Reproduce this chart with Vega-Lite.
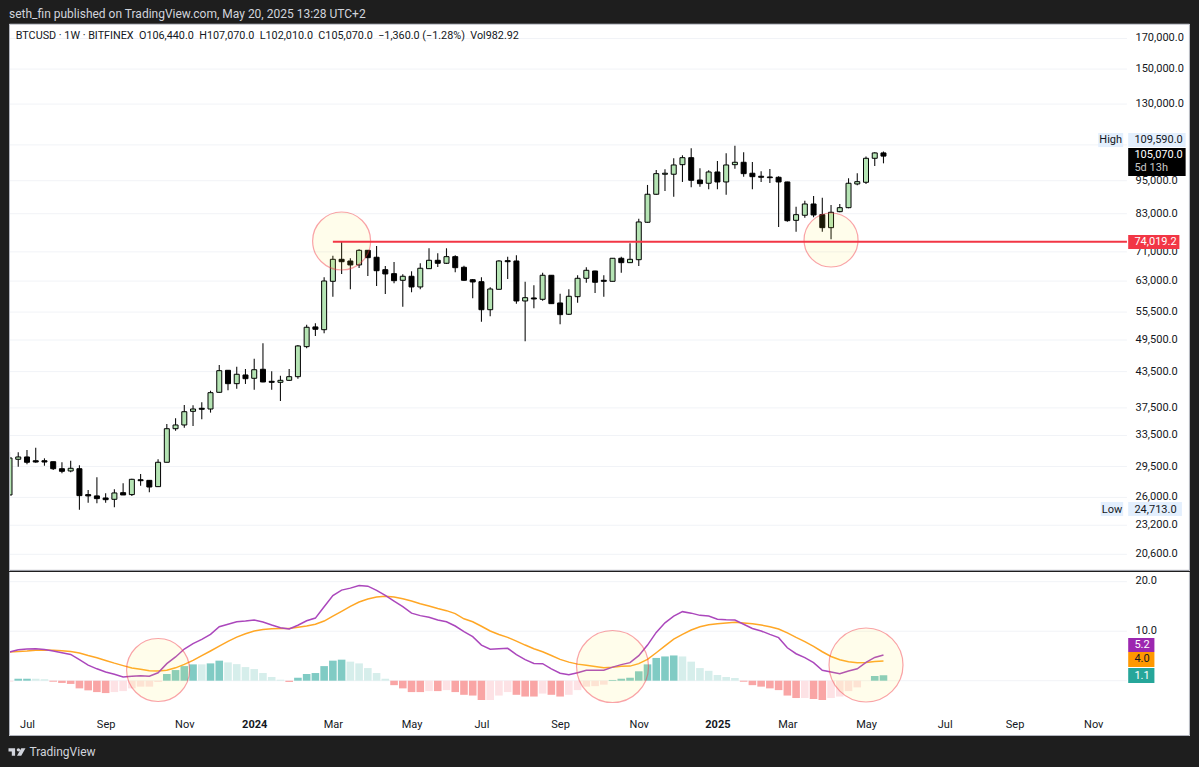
{
  "$schema": "https://vega.github.io/schema/vega-lite/v6.json",
  "background": "#1e1e1e",
  "padding": {"left": 8, "top": 8, "right": 9, "bottom": 9},
  "spacing": 0,
  "resolve": {"scale": {"fill": "independent"}},
  "datasets": {
    "weeks": [
      {"date":"2023-06-19","open":26260,"high":31310,"low":26260,"close":30550,"hist":-0.2,"phase":"downfade","macd":5.8,"signal":5.8},
      {"date":"2023-06-26","open":30390,"high":31270,"low":29480,"close":30680,"hist":0.4,"phase":"up","macd":6.25,"signal":5.9},
      {"date":"2023-07-03","open":30680,"high":31560,"low":29780,"close":30020,"hist":0.4,"phase":"up","macd":6.4,"signal":6.0},
      {"date":"2023-07-10","open":30210,"high":31870,"low":29970,"close":30050,"hist":0.4,"phase":"upfade","macd":6.45,"signal":6.15},
      {"date":"2023-07-17","open":30210,"high":30510,"low":29600,"close":30050,"hist":0.3,"phase":"upfade","macd":6.3,"signal":6.2},
      {"date":"2023-07-24","open":30090,"high":30090,"low":29080,"close":29240,"hist":-0.2,"phase":"down","macd":6.0,"signal":6.15},
      {"date":"2023-07-31","open":29240,"high":30020,"low":28700,"close":28930,"hist":-0.45,"phase":"down","macd":5.65,"signal":6.05},
      {"date":"2023-08-07","open":28970,"high":30210,"low":28810,"close":29290,"hist":-0.65,"phase":"down","macd":5.3,"signal":5.9},
      {"date":"2023-08-14","open":29240,"high":29650,"low":24713,"close":26190,"hist":-1.55,"phase":"down","macd":4.25,"signal":5.6},
      {"date":"2023-08-21","open":26300,"high":26800,"low":25450,"close":26160,"hist":-1.95,"phase":"down","macd":3.15,"signal":5.1},
      {"date":"2023-08-28","open":26160,"high":28230,"low":25380,"close":25870,"hist":-2.3,"phase":"down","macd":2.4,"signal":4.65},
      {"date":"2023-09-04","open":25940,"high":26450,"low":25450,"close":25760,"hist":-2.5,"phase":"down","macd":1.75,"signal":4.1},
      {"date":"2023-09-11","open":25800,"high":26880,"low":24970,"close":26480,"hist":-2.3,"phase":"downfade","macd":1.3,"signal":3.55},
      {"date":"2023-09-18","open":26510,"high":27550,"low":26260,"close":26260,"hist":-2.1,"phase":"downfade","macd":0.75,"signal":3.05},
      {"date":"2023-09-25","open":26300,"high":28070,"low":26160,"close":28000,"hist":-1.55,"phase":"downfade","macd":0.9,"signal":2.55},
      {"date":"2023-10-02","open":27950,"high":28620,"low":27280,"close":27840,"hist":-1.2,"phase":"downfade","macd":1.0,"signal":2.3},
      {"date":"2023-10-09","open":27880,"high":27920,"low":26550,"close":27130,"hist":-1.2,"phase":"downfade","macd":0.9,"signal":2.0},
      {"date":"2023-10-16","open":27170,"high":30390,"low":27170,"close":30020,"hist":-0.25,"phase":"downfade","macd":1.6,"signal":1.95},
      {"date":"2023-10-23","open":30020,"high":35110,"low":30020,"close":34440,"hist":1.35,"phase":"up","macd":3.45,"signal":2.1},
      {"date":"2023-10-30","open":34440,"high":35940,"low":34160,"close":34970,"hist":2.15,"phase":"up","macd":4.8,"signal":2.6},
      {"date":"2023-11-06","open":34970,"high":37950,"low":34590,"close":36920,"hist":2.95,"phase":"up","macd":6.4,"signal":3.3},
      {"date":"2023-11-13","open":36980,"high":37910,"low":34830,"close":37330,"hist":3.3,"phase":"up","macd":7.5,"signal":4.1},
      {"date":"2023-11-20","open":37440,"high":38370,"low":35790,"close":37290,"hist":3.3,"phase":"upfade","macd":8.35,"signal":5.05},
      {"date":"2023-11-27","open":37330,"high":40230,"low":36780,"close":39910,"hist":3.5,"phase":"up","macd":9.35,"signal":6.0},
      {"date":"2023-12-04","open":39970,"high":44700,"low":39910,"close":43670,"hist":4.05,"phase":"up","macd":10.9,"signal":7.0},
      {"date":"2023-12-11","open":43740,"high":43790,"low":40300,"close":41410,"hist":3.7,"phase":"upfade","macd":11.4,"signal":7.95},
      {"date":"2023-12-18","open":41410,"high":44390,"low":40570,"close":43030,"hist":3.35,"phase":"upfade","macd":11.9,"signal":8.8},
      {"date":"2023-12-25","open":42910,"high":43970,"low":41360,"close":42260,"hist":2.75,"phase":"upfade","macd":12.05,"signal":9.5},
      {"date":"2024-01-01","open":42330,"high":45860,"low":40400,"close":43840,"hist":2.35,"phase":"upfade","macd":12.25,"signal":10.05},
      {"date":"2024-01-08","open":43920,"high":48850,"low":41640,"close":41700,"hist":1.55,"phase":"upfade","macd":11.85,"signal":10.35},
      {"date":"2024-01-15","open":41810,"high":43560,"low":40400,"close":41640,"hist":0.75,"phase":"upfade","macd":11.25,"signal":10.5},
      {"date":"2024-01-22","open":41640,"high":42790,"low":38570,"close":41980,"hist":0.2,"phase":"upfade","macd":10.7,"signal":10.55},
      {"date":"2024-01-29","open":41980,"high":43970,"low":41910,"close":42610,"hist":-0.25,"phase":"down","macd":10.45,"signal":10.55},
      {"date":"2024-02-05","open":42610,"high":48510,"low":42260,"close":48320,"hist":0.6,"phase":"up","macd":11.2,"signal":10.8},
      {"date":"2024-02-12","open":48180,"high":52720,"low":47860,"close":52160,"hist":1.35,"phase":"up","macd":12.1,"signal":11.05},
      {"date":"2024-02-19","open":52230,"high":53020,"low":50330,"close":51730,"hist":1.55,"phase":"up","macd":12.65,"signal":11.4},
      {"date":"2024-02-26","open":51640,"high":64000,"low":50890,"close":63030,"hist":2.95,"phase":"up","macd":14.95,"signal":12.05},
      {"date":"2024-03-04","open":62950,"high":69910,"low":59110,"close":68880,"hist":4.05,"phase":"up","macd":17.2,"signal":13.05},
      {"date":"2024-03-11","open":68880,"high":74019,"low":64870,"close":68210,"hist":4.25,"phase":"up","macd":18.3,"signal":14.0},
      {"date":"2024-03-18","open":68400,"high":69170,"low":60920,"close":67310,"hist":3.85,"phase":"upfade","macd":18.7,"signal":15.0},
      {"date":"2024-03-25","open":67310,"high":71760,"low":66480,"close":71460,"hist":3.5,"phase":"upfade","macd":19.25,"signal":15.9},
      {"date":"2024-04-01","open":71460,"high":71550,"low":64340,"close":69340,"hist":2.55,"phase":"upfade","macd":19.1,"signal":16.5},
      {"date":"2024-04-08","open":69460,"high":72740,"low":61760,"close":65740,"hist":1.55,"phase":"upfade","macd":18.25,"signal":16.9},
      {"date":"2024-04-15","open":66010,"high":67030,"low":59770,"close":64870,"hist":0.4,"phase":"upfade","macd":17.25,"signal":17.05},
      {"date":"2024-04-22","open":64950,"high":68130,"low":62450,"close":63110,"hist":-0.9,"phase":"down","macd":16.1,"signal":16.9},
      {"date":"2024-04-29","open":63210,"high":64790,"low":56740,"close":64260,"hist":-1.55,"phase":"down","macd":14.95,"signal":16.55},
      {"date":"2024-05-06","open":64260,"high":65580,"low":60190,"close":61510,"hist":-2.3,"phase":"down","macd":13.65,"signal":16.1},
      {"date":"2024-05-13","open":61510,"high":67770,"low":60920,"close":66400,"hist":-2.3,"phase":"down","macd":13.15,"signal":15.55},
      {"date":"2024-05-20","open":66290,"high":72060,"low":66200,"close":68600,"hist":-2.1,"phase":"downfade","macd":12.8,"signal":15.1},
      {"date":"2024-05-27","open":68600,"high":70600,"low":66750,"close":67770,"hist":-2.1,"phase":"down","macd":12.25,"signal":14.6},
      {"date":"2024-06-03","open":67770,"high":72060,"low":67580,"close":69630,"hist":-1.9,"phase":"downfade","macd":11.9,"signal":14.15},
      {"date":"2024-06-10","open":69630,"high":70030,"low":65320,"close":66560,"hist":-2.3,"phase":"down","macd":11.05,"signal":13.55},
      {"date":"2024-06-17","open":66670,"high":67110,"low":63110,"close":63210,"hist":-2.85,"phase":"down","macd":9.9,"signal":12.5},
      {"date":"2024-06-24","open":63360,"high":63550,"low":58720,"close":62780,"hist":-3.0,"phase":"down","macd":8.9,"signal":11.9},
      {"date":"2024-07-01","open":62850,"high":64000,"low":53360,"close":56040,"hist":-3.9,"phase":"down","macd":7.2,"signal":11.0},
      {"date":"2024-07-08","open":56040,"high":61430,"low":54560,"close":61000,"hist":-3.9,"phase":"downfade","macd":6.35,"signal":10.05},
      {"date":"2024-07-15","open":60920,"high":68600,"low":60920,"close":68410,"hist":-3.0,"phase":"downfade","macd":6.45,"signal":9.35},
      {"date":"2024-07-22","open":68490,"high":69630,"low":63550,"close":68210,"hist":-2.3,"phase":"downfade","macd":6.55,"signal":8.75},
      {"date":"2024-07-29","open":68410,"high":70030,"low":57450,"close":58080,"hist":-2.85,"phase":"down","macd":5.25,"signal":8.0},
      {"date":"2024-08-05","open":58080,"high":62850,"low":49250,"close":58870,"hist":-3.2,"phase":"down","macd":4.25,"signal":7.2},
      {"date":"2024-08-12","open":58800,"high":61940,"low":56370,"close":58560,"hist":-3.2,"phase":"down","macd":3.5,"signal":6.45},
      {"date":"2024-08-19","open":58480,"high":65210,"low":58150,"close":64520,"hist":-2.6,"phase":"downfade","macd":3.45,"signal":5.85},
      {"date":"2024-08-26","open":64520,"high":64520,"low":57450,"close":57450,"hist":-2.85,"phase":"down","macd":2.4,"signal":5.1},
      {"date":"2024-09-02","open":57610,"high":59850,"low":52810,"close":54920,"hist":-3.2,"phase":"down","macd":1.5,"signal":4.3},
      {"date":"2024-09-09","open":55010,"high":60920,"low":54850,"close":59210,"hist":-2.85,"phase":"downfade","macd":1.2,"signal":3.75},
      {"date":"2024-09-16","open":59110,"high":64520,"low":57680,"close":63730,"hist":-1.9,"phase":"downfade","macd":1.6,"signal":3.35},
      {"date":"2024-09-23","open":63730,"high":66670,"low":62600,"close":65850,"hist":-1.2,"phase":"downfade","macd":2.1,"signal":3.1},
      {"date":"2024-09-30","open":65660,"high":65740,"low":60010,"close":62700,"hist":-1.1,"phase":"downfade","macd":2.1,"signal":2.85},
      {"date":"2024-10-07","open":63210,"high":64520,"low":59110,"close":62950,"hist":-0.8,"phase":"downfade","macd":2.1,"signal":2.6},
      {"date":"2024-10-14","open":62950,"high":69170,"low":62950,"close":69170,"hist":0.15,"phase":"up","macd":2.75,"signal":2.7},
      {"date":"2024-10-21","open":69170,"high":69630,"low":65210,"close":67940,"hist":0.4,"phase":"up","macd":3.25,"signal":2.9},
      {"date":"2024-10-28","open":67940,"high":73550,"low":67860,"close":68880,"hist":0.6,"phase":"up","macd":3.65,"signal":2.95},
      {"date":"2024-11-04","open":68770,"high":81330,"low":67030,"close":80250,"hist":1.9,"phase":"up","macd":5.05,"signal":3.45},
      {"date":"2024-11-11","open":80150,"high":93370,"low":80020,"close":89880,"hist":3.3,"phase":"up","macd":7.2,"signal":4.3},
      {"date":"2024-11-18","open":89880,"high":99260,"low":89740,"close":97790,"hist":4.6,"phase":"up","macd":9.75,"signal":5.65},
      {"date":"2024-11-25","open":97550,"high":99550,"low":91090,"close":97950,"hist":4.9,"phase":"up","macd":11.7,"signal":7.05},
      {"date":"2024-12-02","open":97550,"high":104130,"low":89000,"close":101330,"hist":5.1,"phase":"up","macd":13.05,"signal":8.4},
      {"date":"2024-12-09","open":101450,"high":105420,"low":94520,"close":104390,"hist":4.9,"phase":"upfade","macd":13.95,"signal":9.35},
      {"date":"2024-12-16","open":104390,"high":108450,"low":92490,"close":95160,"hist":3.85,"phase":"upfade","macd":13.65,"signal":10.25},
      {"date":"2024-12-23","open":95280,"high":99930,"low":92720,"close":93870,"hist":2.55,"phase":"upfade","macd":13.2,"signal":10.9},
      {"date":"2024-12-30","open":94020,"high":99130,"low":91730,"close":98460,"hist":2.0,"phase":"upfade","macd":13.05,"signal":11.3},
      {"date":"2025-01-06","open":98460,"high":102990,"low":91730,"close":94520,"hist":1.15,"phase":"upfade","macd":12.4,"signal":11.5},
      {"date":"2025-01-13","open":94520,"high":106300,"low":89740,"close":101330,"hist":0.75,"phase":"upfade","macd":12.3,"signal":11.65},
      {"date":"2025-01-20","open":101450,"high":109590,"low":99800,"close":102450,"hist":0.55,"phase":"upfade","macd":12.25,"signal":11.8},
      {"date":"2025-01-27","open":102450,"high":106730,"low":96590,"close":97790,"hist":-0.2,"phase":"down","macd":11.4,"signal":11.65},
      {"date":"2025-02-03","open":97950,"high":102570,"low":91730,"close":96590,"hist":-0.9,"phase":"down","macd":10.55,"signal":11.5},
      {"date":"2025-02-10","open":96750,"high":98740,"low":94520,"close":96350,"hist":-1.2,"phase":"down","macd":10.05,"signal":11.25},
      {"date":"2025-02-17","open":96470,"high":99670,"low":94130,"close":96190,"hist":-1.55,"phase":"down","macd":9.35,"signal":10.9},
      {"date":"2025-02-24","open":96350,"high":96750,"low":78630,"close":94520,"hist":-1.9,"phase":"down","macd":8.7,"signal":10.45},
      {"date":"2025-03-03","open":94520,"high":94630,"low":80340,"close":80670,"hist":-3.0,"phase":"down","macd":6.65,"signal":9.65},
      {"date":"2025-03-10","open":80790,"high":85430,"low":77120,"close":82680,"hist":-3.5,"phase":"down","macd":5.45,"signal":8.75},
      {"date":"2025-03-17","open":82480,"high":87550,"low":81670,"close":86380,"hist":-3.5,"phase":"downfade","macd":4.65,"signal":7.9},
      {"date":"2025-03-24","open":86380,"high":89260,"low":81800,"close":82580,"hist":-3.7,"phase":"down","macd":3.65,"signal":6.95},
      {"date":"2025-03-31","open":82680,"high":88640,"low":77120,"close":78400,"hist":-3.9,"phase":"down","macd":2.1,"signal":5.85},
      {"date":"2025-04-07","open":78400,"high":86030,"low":74760,"close":83490,"hist":-3.5,"phase":"downfade","macd":1.75,"signal":4.9},
      {"date":"2025-04-14","open":83700,"high":86380,"low":83490,"close":85080,"hist":-3.2,"phase":"downfade","macd":1.4,"signal":4.25},
      {"date":"2025-04-21","open":85080,"high":95960,"low":84870,"close":94020,"hist":-2.1,"phase":"downfade","macd":1.95,"signal":3.85},
      {"date":"2025-04-28","open":93750,"high":97950,"low":93250,"close":94630,"hist":-1.35,"phase":"downfade","macd":2.4,"signal":3.65},
      {"date":"2025-05-05","open":94400,"high":104860,"low":93750,"close":104130,"hist":0.0,"phase":"downfade","macd":3.7,"signal":3.7},
      {"date":"2025-05-12","open":104130,"high":106730,"low":100910,"close":106440,"hist":0.95,"phase":"up","macd":4.7,"signal":3.9},
      {"date":"2025-05-19","open":106440,"high":107070,"low":102010,"close":105070,"hist":1.1,"phase":"up","macd":5.2,"signal":4.0}
    ],
    "priceGrid": [
      {"date":"2023-06-19","end":"2025-11-30","price":170000},
      {"date":"2023-06-19","end":"2025-11-30","price":150000},
      {"date":"2023-06-19","end":"2025-11-30","price":130000},
      {"date":"2023-06-19","end":"2025-11-30","price":110000},
      {"date":"2023-06-19","end":"2025-11-30","price":95000},
      {"date":"2023-06-19","end":"2025-11-30","price":83000},
      {"date":"2023-06-19","end":"2025-11-30","price":71000},
      {"date":"2023-06-19","end":"2025-11-30","price":63000},
      {"date":"2023-06-19","end":"2025-11-30","price":55500},
      {"date":"2023-06-19","end":"2025-11-30","price":49500},
      {"date":"2023-06-19","end":"2025-11-30","price":43500},
      {"date":"2023-06-19","end":"2025-11-30","price":37500},
      {"date":"2023-06-19","end":"2025-11-30","price":33500},
      {"date":"2023-06-19","end":"2025-11-30","price":29500},
      {"date":"2023-06-19","end":"2025-11-30","price":26000},
      {"date":"2023-06-19","end":"2025-11-30","price":23200},
      {"date":"2023-06-19","end":"2025-11-30","price":20600}
    ],
    "macdGrid": [
      {"date":"2023-06-19","end":"2025-11-30","price":20},
      {"date":"2023-06-19","end":"2025-11-30","price":10},
      {"date":"2023-06-19","end":"2025-11-30","price":0}
    ],
    "months": [
      {"date":"2023-07-03"},{"date":"2023-09-04"},{"date":"2023-11-06"},{"date":"2024-01-01"},
      {"date":"2024-03-04"},{"date":"2024-05-06"},{"date":"2024-07-01"},{"date":"2024-09-02"},
      {"date":"2024-11-04"},{"date":"2025-01-06"},{"date":"2025-03-03"},{"date":"2025-05-05"},
      {"date":"2025-07-07"},{"date":"2025-09-01"},{"date":"2025-11-03"},{"date":"2025-11-29"}
    ],
    "priceTags": [
      {"date":"2025-11-07","end":"2025-11-27","price":109020,"top":115480,"tag":"range"},
      {"date":"2025-12-01","end":"2026-01-16","price":109020,"top":115480,"tag":"range"},
      {"date":"2025-12-01","end":"2026-01-16","price":96850,"top":108590,"tag":"last"},
      {"date":"2025-12-01","end":"2026-01-11","price":71850,"top":76090,"tag":"level"},
      {"date":"2025-11-09","end":"2025-11-27","price":24090,"top":25520,"tag":"range"},
      {"date":"2025-12-01","end":"2026-01-13","price":24090,"top":25520,"tag":"range"}
    ],
    "macdTags": [
      {"date":"2025-12-01","end":"2025-12-22","price":5.8,"top":8.63,"tag":"macd"},
      {"date":"2025-12-01","end":"2025-12-22","price":2.77,"top":5.8,"tag":"signal"},
      {"date":"2025-12-01","end":"2025-12-22","price":-0.46,"top":2.57,"tag":"hist"}
    ]
  },
  "vconcat": [
    {
      "width": 1181,
      "height": 547,
      "encoding": {
        "x": {"field":"date","type":"temporal","axis":null,"scale":{"type":"utc","nice":false,"padding":0,"domain":["2023-06-18T14:24:00Z","2026-01-19T12:00:00Z"]}},
        "y": {"field":"price","type":"quantitative","scale":{"type":"log","nice":false,"domain":[19240,180391]},
          "axis":{"title":null,"orient":"right","offset":-63,"values":[170000,150000,130000,95000,83000,71000,63000,55500,49500,43500,37500,33500,29500,26000,23200,20600],"format":",.1f","grid":false,"domain":false,"ticks":false,"labelPadding":8,"labelAlign":"left","labelOffset":-0.5,"labelOverlap":false,"labelFont":"Roboto","labelFontSize":11,"labelColor":"#131722"}}
      },
      "layer": [
        {"data":{"name":"months"},"mark":{"type":"rule","color":"#f1f3f7","strokeWidth":1},"encoding":{"y":{"datum":180391,"type":"quantitative"},"y2":{"datum":19240}}},
        {"data":{"name":"priceGrid"},"mark":{"type":"rule","color":"#f1f3f7","strokeWidth":1},"encoding":{"x2":{"field":"end"}}},
        {"data":{"name":"weeks"},"mark":{"type":"rule","color":"#111111","strokeWidth":1.1,"clip":true},"encoding":{"y":{"field":"low","type":"quantitative"},"y2":{"field":"high"}}},
        {"data":{"name":"weeks"},"mark":{"type":"bar","size":5,"stroke":"#000000","strokeWidth":1,"clip":true},
          "encoding":{"y":{"field":"open","type":"quantitative"},"y2":{"field":"close"},
            "fill":{"condition":{"test":"datum.close>=datum.open","value":"#b5e4b4"},"value":"#000000"}}},
        {"data":{"values":[{"date":"2024-03-11","price":74240}]},"mark":{"type":"circle","size":3364,"opacity":1,"fill":"#ffeb3b","fillOpacity":0.1,"stroke":"#f23645","strokeOpacity":0.45,"strokeWidth":1.2}},
        {"data":{"values":[{"date":"2025-04-07","price":74540}]},"mark":{"type":"circle","size":2916,"opacity":1,"fill":"#ffeb3b","fillOpacity":0.1,"stroke":"#f23645","strokeOpacity":0.45,"strokeWidth":1.2}},
        {"data":{"values":[{"date":"2024-03-04","end":"2025-11-30","price":74019.2}]},"mark":{"type":"rule","color":"#f23645","strokeWidth":2},"encoding":{"x2":{"field":"end"}}},
        {"data":{"values":[{"date":"2023-06-19","end":"2026-01-19T01:00:00Z","price":19290}]},"mark":{"type":"rule","color":"#8a8d96","strokeWidth":1},"encoding":{"x2":{"field":"end"}}},
        {"data":{"values":[{"date":"2023-06-19","price":180260,"top":19290},{"date":"2026-01-19T01:00:00Z","price":180260,"top":19290}]},"mark":{"type":"rule","color":"#b2b5be","strokeWidth":1},"encoding":{"y2":{"field":"top"}}},
        {"data":{"values":[{"date":"2023-06-19","end":"2026-01-19T01:00:00Z","price":180260}]},"mark":{"type":"rule","color":"#b2b5be","strokeWidth":1},"encoding":{"x2":{"field":"end"}}},
        {"data":{"name":"priceTags"},"mark":{"type":"rect"},
          "encoding":{"x2":{"field":"end"},"y2":{"field":"top"},
            "fill":{"field":"tag","type":"nominal","legend":null,"scale":{"domain":["range","last","level"],"range":["#e3effd","#000000","#f23645"]}}}},
        {"data":{"values":[
            {"date":"2023-06-18T14:24:00Z","price":187920,"label":"seth_fin published on TradingView.com, May 20, 2025 13:28 UTC+2"}
          ]},
          "mark":{"type":"text","align":"left","baseline":"middle","font":"Roboto","fontSize":12,"color":"#d1d4dc"},"encoding":{"text":{"field":"label"}}},
        {"data":{"values":[
            {"date":"2023-06-24","price":171750,"label":"BTCUSD · 1W · BITFINEX\u00a0\u00a0O106,440.0\u00a0\u00a0H107,070.0\u00a0\u00a0L102,010.0\u00a0\u00a0C105,070.0\u00a0\u00a0−1,360.0 (−1.28%)\u00a0\u00a0Vol982.92"}
          ]},
          "mark":{"type":"text","align":"left","baseline":"middle","font":"Roboto","fontSize":10.8,"color":"#131722"},"encoding":{"text":{"field":"label"}}},
        {"data":{"values":[
            {"date":"2025-12-06","price":112220,"label":"109,590.0"},
            {"date":"2025-12-06","price":24713,"label":"24,713.0"}
          ]},
          "mark":{"type":"text","align":"left","baseline":"middle","font":"Roboto","fontSize":11,"color":"#131722"},"encoding":{"text":{"field":"label"}}},
        {"data":{"values":[
            {"date":"2025-11-17","price":112220,"label":"High"},
            {"date":"2025-11-18","price":24713,"label":"Low"}
          ]},
          "mark":{"type":"text","align":"center","baseline":"middle","font":"Roboto","fontSize":11,"color":"#131722"},"encoding":{"text":{"field":"label"}}},
        {"data":{"values":[
            {"date":"2025-12-06","price":105570,"label":"105,070.0"},
            {"date":"2025-12-06","price":74019.2,"label":"74,019.2"}
          ]},
          "mark":{"type":"text","align":"left","baseline":"middle","font":"Roboto","fontSize":11,"color":"#ffffff"},"encoding":{"text":{"field":"label"}}},
        {"data":{"values":[{"date":"2025-12-06","price":100050,"label":"5d 13h"}]},
          "mark":{"type":"text","align":"left","baseline":"middle","font":"Roboto","fontSize":11,"color":"#c8c8c8"},"encoding":{"text":{"field":"label"}}}
      ]
    },
    {
      "width": 1181,
      "height": 164,
      "encoding": {
        "x": {"field":"date","type":"temporal","scale":{"type":"utc","nice":false,"padding":0,"domain":["2023-06-18T14:24:00Z","2026-01-19T12:00:00Z"]},
          "axis":{"title":null,"orient":"bottom","offset":-24,"grid":false,"domain":false,"ticks":false,"labelPadding":6,"labelOverlap":false,"labelFont":"Roboto","labelFontSize":11,"labelColor":"#131722",
            "labelFontWeight":{"condition":{"test":"utcmonth(datum.value)==0","value":"bold"},"value":"normal"},
            "labelExpr":"utcmonth(datum.value)==0 ? utcFormat(datum.value,'%Y') : utcFormat(datum.value,'%b')",
            "values":[{"year":2023,"month":7,"date":3,"utc":true},{"year":2023,"month":9,"date":4,"utc":true},{"year":2023,"month":11,"date":6,"utc":true},{"year":2024,"month":1,"date":1,"utc":true},{"year":2024,"month":3,"date":4,"utc":true},{"year":2024,"month":5,"date":6,"utc":true},{"year":2024,"month":7,"date":1,"utc":true},{"year":2024,"month":9,"date":2,"utc":true},{"year":2024,"month":11,"date":4,"utc":true},{"year":2025,"month":1,"date":6,"utc":true},{"year":2025,"month":3,"date":3,"utc":true},{"year":2025,"month":5,"date":5,"utc":true},{"year":2025,"month":7,"date":7,"utc":true},{"year":2025,"month":9,"date":1,"utc":true},{"year":2025,"month":11,"date":3,"utc":true}]}},
        "y": {"field":"price","type":"quantitative","scale":{"nice":false,"zero":false,"domain":[-11.17,21.96]},
          "axis":{"title":null,"orient":"right","offset":-63,"values":[20,10,0],"format":".1f","grid":false,"domain":false,"ticks":false,"labelPadding":8,"labelAlign":"left","labelOffset":-1,"labelOverlap":false,"labelFont":"Roboto","labelFontSize":11,"labelColor":"#131722"}}
      },
      "layer": [
        {"data":{"name":"months"},"mark":{"type":"rule","color":"#f1f3f7","strokeWidth":1},"encoding":{"y":{"datum":21.96,"type":"quantitative"},"y2":{"datum":-6}}},
        {"data":{"name":"macdGrid"},"mark":{"type":"rule","color":"#f1f3f7","strokeWidth":1},"encoding":{"x2":{"field":"end"}}},
        {"data":{"name":"weeks"},"mark":{"type":"bar","size":7.6,"clip":true},
          "encoding":{"y":{"field":"hist","type":"quantitative","stack":null},
            "color":{"field":"phase","type":"nominal","legend":null,"scale":{"domain":["up","upfade","down","downfade"],"range":["#80cbc4","#d6eeeb","#f9a5a5","#fde2e5"]}}}},
        {"data":{"name":"weeks"},"mark":{"type":"line","color":"#ffa726","strokeWidth":1.5,"clip":true},"encoding":{"y":{"field":"signal","type":"quantitative"}}},
        {"data":{"name":"weeks"},"mark":{"type":"line","color":"#ab47bc","strokeWidth":1.5,"clip":true},"encoding":{"y":{"field":"macd","type":"quantitative"}}},
        {"data":{"values":[{"date":"2023-10-16","price":2.16}]},"mark":{"type":"circle","size":3969,"opacity":1,"fill":"#ffeb3b","fillOpacity":0.1,"stroke":"#f23645","strokeOpacity":0.45,"strokeWidth":1.2}},
        {"data":{"values":[{"date":"2024-10-14","price":2.87}]},"mark":{"type":"circle","size":5184,"opacity":1,"fill":"#ffeb3b","fillOpacity":0.1,"stroke":"#f23645","strokeOpacity":0.45,"strokeWidth":1.2}},
        {"data":{"values":[{"date":"2025-05-05","price":3.17}]},"mark":{"type":"circle","size":5476,"opacity":1,"fill":"#ffeb3b","fillOpacity":0.1,"stroke":"#f23645","strokeOpacity":0.45,"strokeWidth":1.2}},
        {"data":{"values":[{"date":"2023-06-19","price":21.96,"top":-11.07},{"date":"2026-01-19T01:00:00Z","price":21.96,"top":-11.07}]},"mark":{"type":"rule","color":"#b2b5be","strokeWidth":1},"encoding":{"y2":{"field":"top"}}},
        {"data":{"values":[{"date":"2023-06-19","end":"2026-01-19T01:00:00Z","price":-11.07}]},"mark":{"type":"rule","color":"#b2b5be","strokeWidth":1},"encoding":{"x2":{"field":"end"}}},
        {"data":{"name":"macdTags"},"mark":{"type":"rect"},
          "encoding":{"x2":{"field":"end"},"y2":{"field":"top"},
            "fill":{"field":"tag","type":"nominal","legend":null,"scale":{"domain":["macd","signal","hist"],"range":["#9c27b0","#ff9800","#26a69a"]}}}},
        {"data":{"values":[
            {"date":"2025-12-06","price":7.2,"label":"5.2"},
            {"date":"2025-12-06","price":1.05,"label":"1.1"}
          ]},
          "mark":{"type":"text","align":"left","baseline":"middle","font":"Roboto","fontSize":11,"color":"#ffffff"},"encoding":{"text":{"field":"label"}}},
        {"data":{"values":[{"date":"2025-12-06","price":4.3,"label":"4.0"}]},
          "mark":{"type":"text","align":"left","baseline":"middle","font":"Roboto","fontSize":11,"color":"#131722"},"encoding":{"text":{"field":"label"}}},
        {"data":{"values":[{"date":"2023-07-05","price":-14.4,"label":"TradingView"}]},
          "mark":{"type":"text","align":"left","baseline":"middle","font":"Roboto","fontSize":12,"color":"#d1d4dc"},"encoding":{"text":{"field":"label"}}},
        {"data":{"values":[{"date":"2023-06-25","price":-14.4}]},
          "mark":{"type":"point","filled":true,"opacity":1,"size":289,"color":"#d1d4dc","shape":"M-1 -.444L-.222 -.444L-.222 .444L-.611 .444L-.611 -.056L-1 -.056ZM-.027 -.25a.194 .194 0 1 0 .388 0a.194 .194 0 1 0 -.388 0ZM.5 -.444L1 -.444L.5 .444L0 .444Z"}}
      ]
    }
  ],
  "config": {
    "view": {"stroke": null, "fill": "#ffffff"}
  }
}
